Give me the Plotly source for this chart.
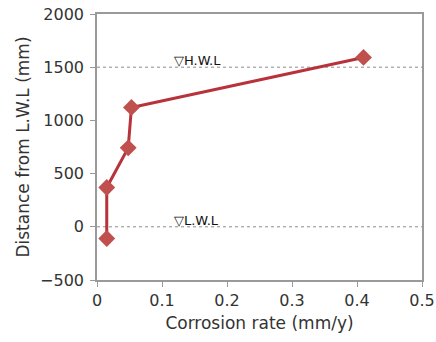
import plotly.graph_objects as go

corrosion_rate = [0.015, 0.015, 0.048, 0.053, 0.41]
distance = [-110, 370, 742, 1122, 1592]
x_ticks = [0, 0.1, 0.2, 0.3, 0.4, 0.5]
y_ticks = [-500, 0, 500, 1000, 1500, 2000]
y_tick_text = ["−500", "0", "500", "1000", "1500", "2000"]
levels = [1500, 0]
level_labels = ["▽H.W.L", "▽L.W.L"]

font_family = "DejaVu Sans, sans-serif"

fig = go.Figure()
fig.add_trace(go.Scatter(
    x=corrosion_rate, y=distance, mode="lines+markers",
    line=dict(color="#B7323A", width=3),
    marker=dict(symbol="diamond", size=13, color="#C0504D"),
    showlegend=False,
))

for lv, lab in zip(levels, level_labels):
    fig.add_shape(type="line", xref="paper", x0=0, x1=1, yref="y", y0=lv, y1=lv,
                  line=dict(color="#8C8C8C", width=1, dash="dot"), layer="below")
    fig.add_annotation(x=0.115, y=lv, text=lab, showarrow=False, xanchor="left",
                       yanchor="bottom", yshift=-3,
                       font=dict(size=13, color="#111111", family=font_family))

axis_common = dict(showline=True, linecolor="#9A9A9A", linewidth=1.5, mirror=True,
                   showgrid=False, zeroline=False, ticks="outside", ticklen=5,
                   tickcolor="#9A9A9A", automargin=False,
                   tickfont=dict(size=16, color="#333333", family=font_family))

fig.update_xaxes(range=[0, 0.5], tickvals=x_ticks, ticktext=[str(v) for v in x_ticks],
                 title=dict(text="Corrosion rate (mm/y)", font=dict(size=17, color="#333333", family=font_family), standoff=8),
                 **axis_common)
fig.update_yaxes(range=[-500, 2000], tickvals=y_ticks, ticktext=y_tick_text,
                 ticklabelstandoff=3,
                 title=dict(text="Distance from L.W.L (mm)", font=dict(size=17, color="#333333", family=font_family), standoff=6),
                 **axis_common)

fig.update_layout(width=436, height=342, margin=dict(l=97, r=14, t=14, b=62),
                  plot_bgcolor="white", paper_bgcolor="white")

fig.write_html("out.html", config={"displayModeBar": False},
               post_script="document.body.style.margin='0';")
